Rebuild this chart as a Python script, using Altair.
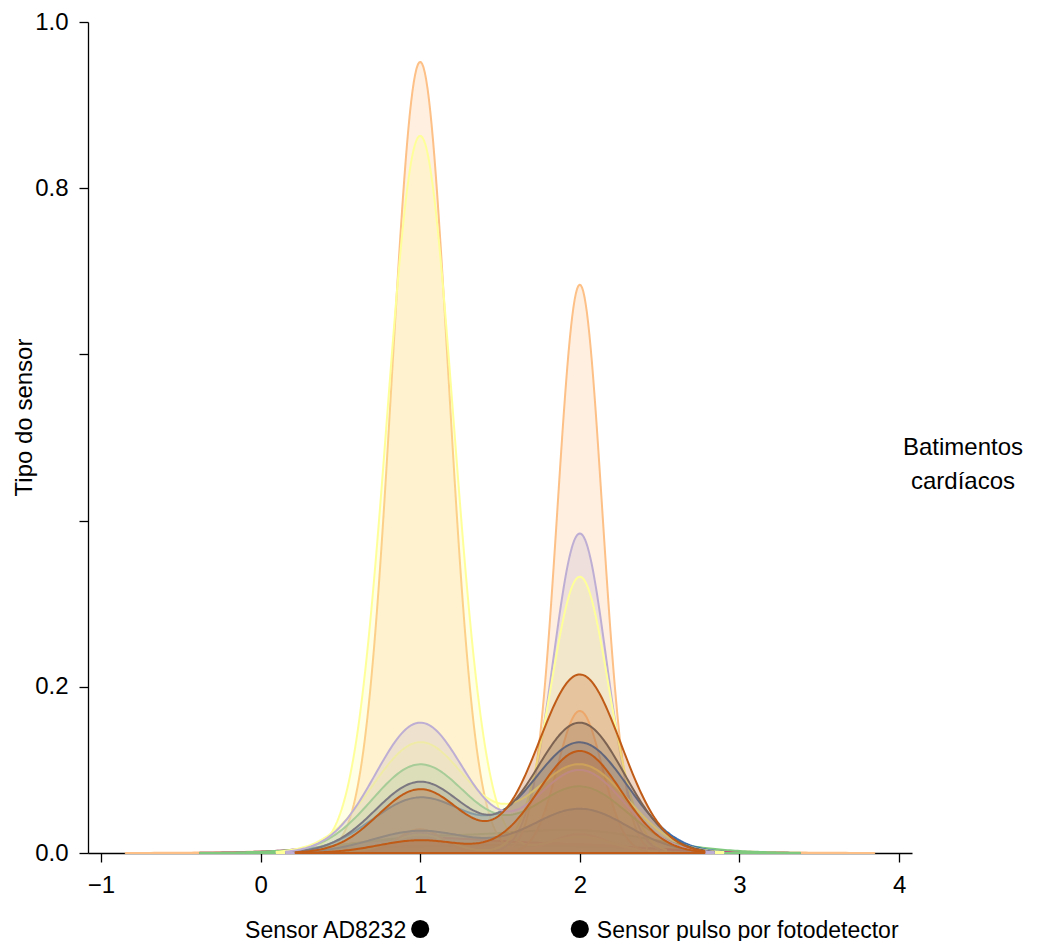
import altair as alt
import pandas as pd

# ---- data -----------------------------------------------------------------
# one entry per hue group (drawn bottom -> top)
GROUPS = ["g01", "g02", "g03", "g04", "g05", "g06", "g07", "g08", "g09",
          "g10", "g11", "g12", "g13", "g14", "g15", "g16", "g17"]
COLORS = ["#fdc086", "#f0027f", "#7fc97f", "#fdc086", "#ffff99", "#fdc086",
          "#beaed4", "#ffff99", "#fdc086", "#386cb0", "#386cb0", "#7fc97f",
          "#ffff99", "#666666", "#beaed4", "#bf5b17", "#bf5b17"]
# number of observations at sensor code 1 (AD8232) and code 2 (photodetector)
N_AD8232 = [1, 2, 2, 42, 45, 1, 1, 1, 1, 2, 5, 8, 10, 6, 11, 5, 1]
N_FOTO = [1, 1, 3, 1, 1, 24, 16, 15, 6, 4, 10, 6, 8, 11, 7, 14, 8]
# kernel bandwidth of each group's density estimate
BANDWIDTH = [0.615, 0.46, 0.46, 0.176, 0.208, 0.14, 0.166, 0.18, 0.14,
             0.30, 0.30, 0.30, 0.30, 0.28, 0.28, 0.26, 0.26]
NORM = 100  # normalising count of the density

SENSOR_CODES = [1, 2]
SENSOR_LABELS = ["Sensor AD8232", "Sensor pulso por fotodetector"]
LEGEND_TITLE = ["Batimentos", "cardíacos"]
X_TICKS = [-1, 0, 1, 2, 3, 4]
Y_TICKS = [0.0, 0.2, 0.4, 0.6, 0.8, 1.0]

FONT = "Liberation Sans"

obs = pd.DataFrame({
    "grupo": [g for g, a, b in zip(GROUPS, N_AD8232, N_FOTO) for _ in range(a + b)],
    "sensor": [v for a, b in zip(N_AD8232, N_FOTO) for v in [1] * a + [2] * b],
})

TOP = 14
W, H = 824, 853 - 8 - TOP

x_enc = alt.X(
    "sensor:Q",
    scale=alt.Scale(domain=[-1.081, 4.081], nice=False, zero=False),
    axis=alt.Axis(values=X_TICKS, format="d", title=None, grid=False,
                  labelFontSize=24, labelPadding=11),
)
y_enc = alt.Y(
    "densidade:Q",
    scale=alt.Scale(domain=[0, 1], nice=False, zero=True),
    axis=alt.Axis(values=Y_TICKS, format=".1f", grid=False,
                  labelExpr="(datum.label == '0.4' || datum.label == '0.6') ? '' : datum.label",
                  title="Tipo do sensor", titleFontSize=24, titleFontWeight="normal",
                  titleX=-57, titleY=417 - 8 - TOP, titleBaseline="alphabetic",
                  titleAlign="center", labelFontSize=24, labelPadding=11),
)

layers = []
for g, col, bw in zip(GROUPS, COLORS, BANDWIDTH):
    layers.append(
        alt.Chart(obs)
        .transform_filter(alt.datum.grupo == g)
        .transform_density("sensor", as_=["sensor", "dens"], bandwidth=bw,
                           extent=[1 - 3 * bw, 2 + 3 * bw], counts=True, steps=240)
        .transform_calculate(densidade=f"datum.dens / {NORM}")
        .mark_area(fill=col, fillOpacity=0.25, stroke=col, strokeWidth=2,
                   strokeJoin="round")
        .encode(x=x_enc, y=y_enc)
    )

ann = pd.DataFrame({"sensor": SENSOR_CODES, "rotulo": SENSOR_LABELS})
dots = alt.Chart(ann).mark_point(filled=True, color="black", opacity=1, size=330).encode(
    x=x_enc, y=alt.value(929 - 8 - TOP))
left_txt = (alt.Chart(ann).transform_filter(alt.datum.sensor == 1)
            .mark_text(align="right", dx=-14, baseline="alphabetic", fontSize=23,
                       font=FONT, color="black")
            .encode(x=x_enc, y=alt.value(938 - 8 - TOP), text="rotulo:N"))
right_txt = (alt.Chart(ann).transform_filter(alt.datum.sensor == 2)
             .mark_text(align="left", dx=17, baseline="alphabetic", fontSize=23,
                        font=FONT, color="black")
             .encode(x=x_enc, y=alt.value(938 - 8 - TOP), text="rotulo:N"))

leg = pd.DataFrame({"linha": LEGEND_TITLE, "ordem": [0, 1]})
leg1 = (alt.Chart(leg).transform_filter(alt.datum.ordem == 0)
        .mark_text(align="center", baseline="alphabetic", fontSize=24, font=FONT, color="black")
        .encode(x=alt.value(875), y=alt.value(455 - 8 - TOP), text="linha:N"))
leg2 = (alt.Chart(leg).transform_filter(alt.datum.ordem == 1)
        .mark_text(align="center", baseline="alphabetic", fontSize=24, font=FONT, color="black")
        .encode(x=alt.value(875), y=alt.value(489 - 8 - TOP), text="linha:N"))

chart = (
    alt.layer(*layers, dots, left_txt, right_txt, leg1, leg2)
    .properties(width=W, height=H, autosize=alt.AutoSizeParams(type="none"),
                padding={"left": 80, "top": TOP, "right": 128, "bottom": 95})
    .configure_view(stroke="transparent")
    .configure_axis(domainColor="black", domainWidth=1.3, tickColor="black",
                    tickWidth=1.3, tickSize=9, labelColor="black", titleColor="black",
                    labelFont=FONT, titleFont=FONT)
)

chart.save("out.html", embed_options={"renderer": "svg", "actions": False})
